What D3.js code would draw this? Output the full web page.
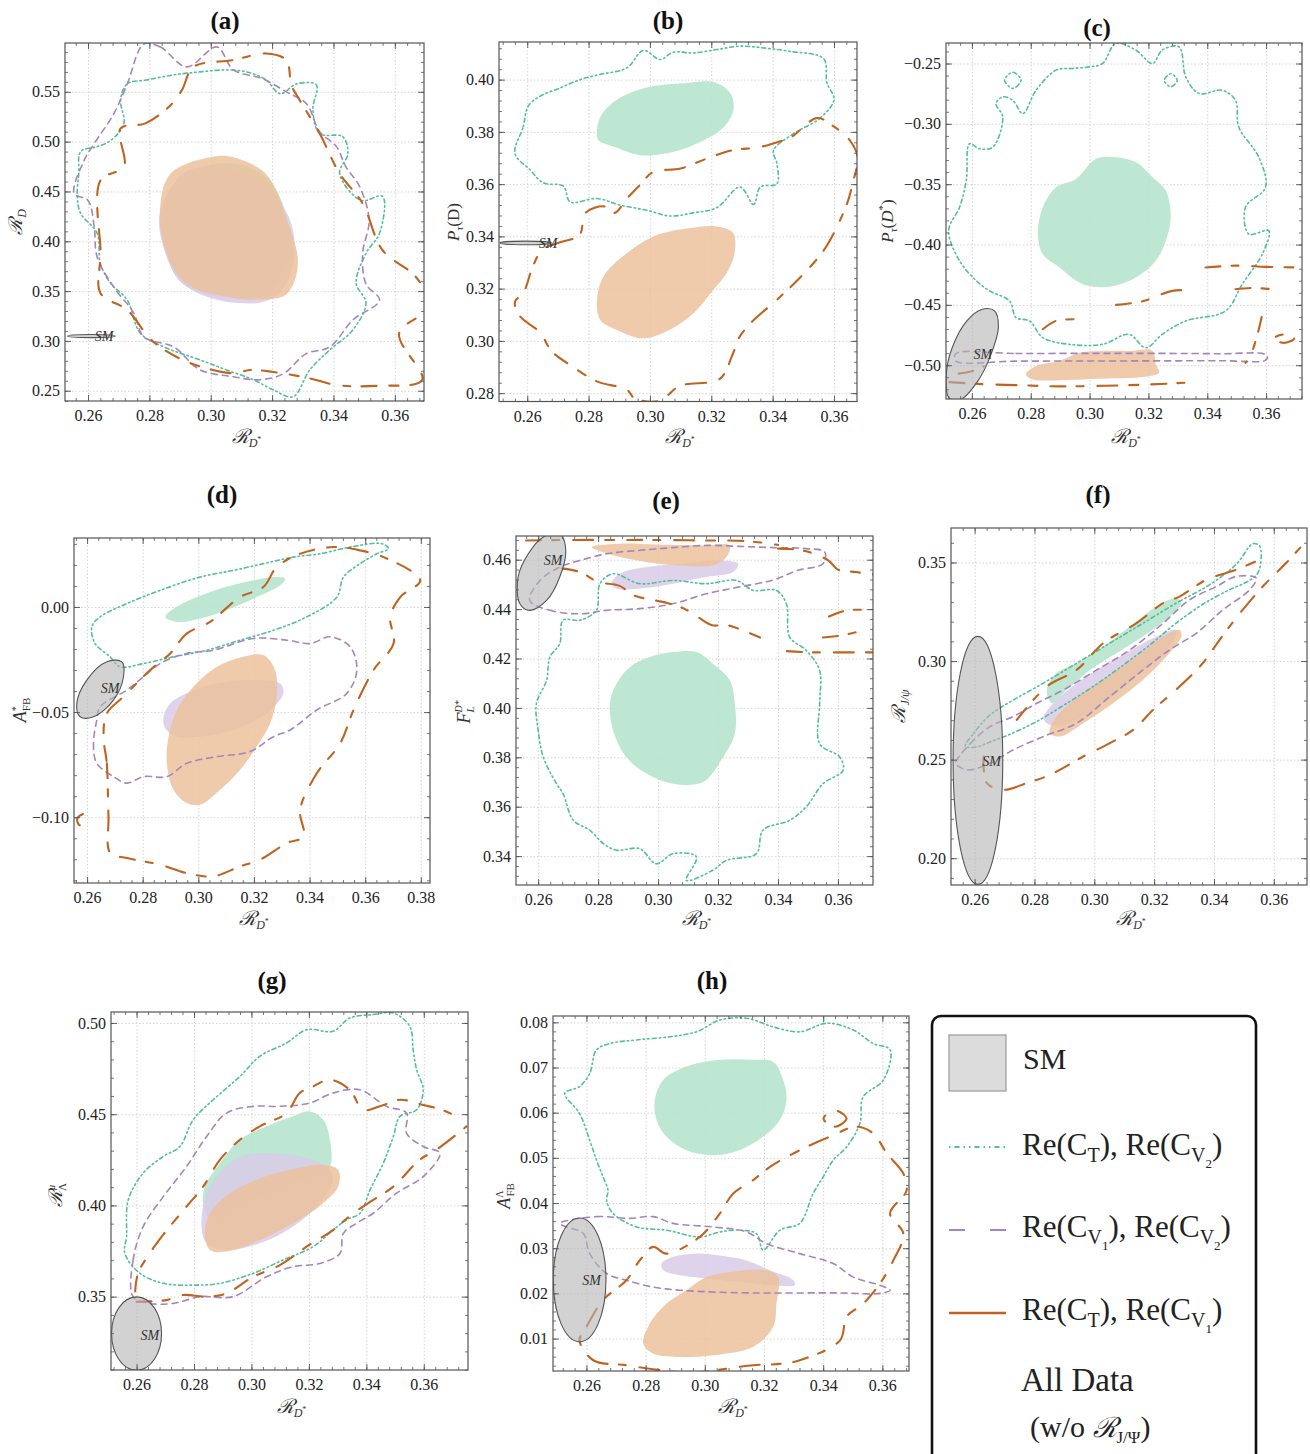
<!DOCTYPE html>
<html><head><meta charset="utf-8">
<script src="https://cdn.jsdelivr.net/npm/d3@7"></script>
<style>
body{margin:0;background:#fff}
svg{display:block}
text{font-family:"Liberation Serif","Times New Roman","DejaVu Serif",serif;fill:#222}
</style>
</head><body>
<svg id="c" width="1310" height="1454"></svg>
<script>
// ================= DATA =================
// Tick values
const xTicks = [0.26,0.28,0.30,0.32,0.34,0.36];
const xTicksD = [0.26,0.28,0.30,0.32,0.34,0.36,0.38];
const yTicksA = [0.25,0.30,0.35,0.40,0.45,0.50,0.55];
const yTicksB = [0.28,0.30,0.32,0.34,0.36,0.38,0.40];
const yTicksC = [-0.50,-0.45,-0.40,-0.35,-0.30,-0.25];
const yTicksD = [-0.10,-0.05,0.00];
const yTicksE = [0.34,0.36,0.38,0.40,0.42,0.44,0.46];
const yTicksF = [0.20,0.25,0.30,0.35];
const yTicksG = [0.35,0.40,0.45,0.50];
const yTicksH = [0.01,0.02,0.03,0.04,0.05,0.06,0.07,0.08];

// ---- Panel (a): R_D vs R_D* ----
const fillGreenA = [[0.2845,0.425],[0.288,0.458],[0.297,0.475],[0.31,0.477],[0.32,0.458],[0.3255,0.41],[0.324,0.37],[0.317,0.347],[0.303,0.344],[0.29,0.36],[0.2855,0.39]];
const fillPurpleA = [[0.2835,0.43],[0.2845,0.395],[0.29,0.36],[0.3,0.343],[0.309,0.338],[0.317,0.339],[0.323,0.35],[0.327,0.38],[0.326,0.42],[0.318,0.455],[0.305,0.474],[0.292,0.47]];
const fillOrangeA = [[0.2834,0.427],[0.2857,0.387],[0.2922,0.357],[0.3073,0.343],[0.3155,0.3416],[0.3246,0.3467],[0.3284,0.3768],[0.3246,0.424],[0.318,0.4676],[0.3073,0.4843],[0.301,0.485],[0.2868,0.4676]];
const ringGreenA = [[0.2728,0.558],[0.2793,0.562],[0.2879,0.567],[0.2965,0.570],[0.305,0.572],[0.3117,0.570],[0.318,0.562],[0.3226,0.548],[0.328,0.558],[0.3344,0.557],[0.3333,0.532],[0.3355,0.508],[0.343,0.505],[0.3447,0.488],[0.342,0.468],[0.349,0.441],[0.356,0.445],[0.355,0.408],[0.3506,0.388],[0.3474,0.358],[0.3506,0.338],[0.3463,0.311],[0.3388,0.291],[0.3323,0.271],[0.3268,0.244],[0.3203,0.251],[0.3139,0.261],[0.305,0.271],[0.2965,0.281],[0.2847,0.294],[0.277,0.308],[0.2728,0.341],[0.2673,0.358],[0.264,0.378],[0.263,0.408],[0.2576,0.428],[0.2565,0.445],[0.257,0.468],[0.2576,0.490],[0.263,0.495],[0.2673,0.501],[0.2717,0.518],[0.2706,0.542]];
const ringPurpleA = [[0.2782,0.598],[0.2836,0.595],[0.2922,0.575],[0.302,0.595],[0.3074,0.572],[0.317,0.563],[0.3246,0.55],[0.3312,0.538],[0.3355,0.51],[0.341,0.495],[0.344,0.475],[0.3485,0.455],[0.3516,0.421],[0.3495,0.388],[0.3506,0.357],[0.355,0.341],[0.3463,0.321],[0.3388,0.294],[0.331,0.287],[0.3236,0.267],[0.316,0.261],[0.3074,0.264],[0.2965,0.271],[0.2879,0.294],[0.2782,0.304],[0.2749,0.328],[0.2684,0.354],[0.263,0.384],[0.262,0.415],[0.26,0.441],[0.2555,0.448],[0.2587,0.481],[0.262,0.498],[0.2684,0.528],[0.2728,0.558]];
const ringOrangeA = [[0.2706,0.5132],[0.2787,0.5183],[0.2869,0.5366],[0.2906,0.5517],[0.2944,0.575],[0.3073,0.5818],[0.318,0.5885],[0.3246,0.5818],[0.3263,0.5567],[0.329,0.5416],[0.3355,0.5082],[0.342,0.468],[0.3495,0.438],[0.356,0.391],[0.3668,0.3644],[0.3714,0.335],[0.3614,0.3076],[0.3689,0.2607],[0.355,0.255],[0.3409,0.2557],[0.3323,0.2624],[0.32,0.269],[0.3128,0.2708],[0.3074,0.2675],[0.2922,0.2791],[0.281,0.30],[0.2728,0.331],[0.2641,0.3477],[0.2641,0.3878],[0.2641,0.4614],[0.2717,0.4748]];
const smA = {cx:0.2611, cy:0.3049, rx:0.0078, ry:0.0016, label:[0.2652,0.3049]};

// ---- Panel (b): P_tau(D) vs R_D* ----
const fillGreenB = [[0.2827,0.3794],[0.2838,0.3857],[0.2892,0.3923],[0.299,0.397],[0.31,0.3985],[0.3209,0.399],[0.3263,0.3947],[0.3272,0.3883],[0.3242,0.382],[0.3176,0.3768],[0.3078,0.3724],[0.2969,0.3711],[0.2882,0.3743],[0.2832,0.3768]];
const fillOrangeB = [[0.2827,0.315],[0.2849,0.3247],[0.2925,0.3336],[0.3011,0.34],[0.312,0.343],[0.3218,0.3438],[0.3271,0.3413],[0.3276,0.3336],[0.325,0.326],[0.3207,0.3196],[0.3142,0.3106],[0.3065,0.3043],[0.2978,0.301],[0.289,0.3043],[0.2838,0.308]];
const ringGreenB = [[0.256,0.3717],[0.2587,0.382],[0.2603,0.3898],[0.2641,0.3936],[0.2707,0.3968],[0.2772,0.4],[0.2838,0.402],[0.2925,0.4045],[0.2979,0.4112],[0.3033,0.4077],[0.3076,0.4105],[0.3141,0.4102],[0.3218,0.4115],[0.3294,0.4128],[0.3381,0.412],[0.3457,0.4108],[0.3566,0.408],[0.3577,0.3988],[0.36,0.3923],[0.3555,0.3853],[0.3468,0.3793],[0.3403,0.3729],[0.3414,0.3678],[0.3414,0.3601],[0.336,0.3589],[0.3338,0.3522],[0.3294,0.3589],[0.3218,0.351],[0.3141,0.349],[0.3065,0.3478],[0.299,0.35],[0.2903,0.352],[0.2827,0.3545],[0.274,0.3532],[0.2718,0.3592],[0.2652,0.3605],[0.2609,0.3655]];
const ringOrangeB = [[0.265,0.335],[0.27,0.3375],[0.277,0.3405],[0.279,0.349],[0.285,0.3515],[0.2885,0.349],[0.2925,0.3545],[0.297,0.36],[0.301,0.3646],[0.31,0.366],[0.319,0.37],[0.327,0.373],[0.335,0.374],[0.3405,0.3757],[0.346,0.378],[0.3545,0.3853],[0.36,0.382],[0.365,0.377],[0.3677,0.3703],[0.366,0.36],[0.3644,0.353],[0.3578,0.3367],[0.352,0.328],[0.3422,0.3166],[0.333,0.307],[0.3291,0.3013],[0.327,0.295],[0.3227,0.2854],[0.3098,0.2828],[0.303,0.277],[0.295,0.278],[0.2925,0.2813],[0.2827,0.2845],[0.275,0.29],[0.268,0.296],[0.2641,0.3033],[0.2576,0.3095],[0.256,0.315],[0.2587,0.3183],[0.262,0.329]];
const smB = {cx:0.2595, cy:0.3375, rx:0.0084, ry:0.0007, label:[0.2668,0.3375]};

// ---- Panel (c): P_tau(D*) vs R_D* ----
const fillGreenC = [[0.2824,-0.3913],[0.2841,-0.3691],[0.2886,-0.3525],[0.2954,-0.3456],[0.3022,-0.329],[0.3089,-0.3276],[0.3157,-0.3317],[0.3214,-0.3442],[0.3259,-0.3553],[0.3276,-0.3774],[0.3259,-0.3968],[0.3225,-0.4134],[0.3157,-0.4273],[0.3067,-0.435],[0.2976,-0.4328],[0.2897,-0.4189],[0.2841,-0.4079]];
const fillOrangeC = [[0.2784,-0.5076],[0.2818,-0.5007],[0.2897,-0.4965],[0.2965,-0.4896],[0.3044,-0.4882],[0.3134,-0.4882],[0.3214,-0.4882],[0.3225,-0.4993],[0.3236,-0.5062],[0.318,-0.5098],[0.3089,-0.5109],[0.2976,-0.5118],[0.2875,-0.5126],[0.2807,-0.5118]];
const ringGreenC = [[0.2521,-0.3885],[0.2558,-0.3691],[0.2581,-0.347],[0.2592,-0.3165],[0.2626,-0.3206],[0.2671,-0.3193],[0.2705,-0.2943],[0.2682,-0.2832],[0.2705,-0.2777],[0.2739,-0.2805],[0.2773,-0.2915],[0.2818,-0.2722],[0.2886,-0.2555],[0.2942,-0.2541],[0.2999,-0.2528],[0.3044,-0.25],[0.3089,-0.2334],[0.3157,-0.2389],[0.3214,-0.25],[0.3247,-0.2389],[0.3304,-0.2362],[0.3327,-0.2611],[0.3372,-0.2749],[0.3451,-0.2722],[0.3496,-0.2805],[0.3507,-0.3026],[0.3575,-0.3276],[0.3598,-0.3525],[0.353,-0.3691],[0.3541,-0.3913],[0.3609,-0.3885],[0.3587,-0.4079],[0.3519,-0.4328],[0.3462,-0.455],[0.3327,-0.4633],[0.3247,-0.4744],[0.3191,-0.4855],[0.3134,-0.4744],[0.3044,-0.4827],[0.2931,-0.4827],[0.2841,-0.4771],[0.2796,-0.4633],[0.275,-0.4605],[0.2728,-0.4467],[0.266,-0.4384],[0.2615,-0.43],[0.2558,-0.4134]];
const loopGreenC1 = [[0.2739,-0.2572],[0.2767,-0.2639],[0.2739,-0.2706],[0.2711,-0.2639]];
const loopGreenC2 = [[0.3276,-0.2585],[0.3298,-0.2639],[0.3276,-0.2693],[0.3254,-0.2639]];
const ringPurpleC = [[0.2545,-0.4905],[0.275,-0.4903],[0.30,-0.4902],[0.325,-0.4902],[0.345,-0.4905],[0.3595,-0.4908],[0.3605,-0.4935],[0.3595,-0.4962],[0.345,-0.4963],[0.325,-0.4964],[0.30,-0.4965],[0.275,-0.4966],[0.2545,-0.4965]];
const pathOrangeC1 = [[0.2524,-0.514],[0.262,-0.5155],[0.275,-0.5165],[0.29,-0.5175],[0.305,-0.517],[0.32,-0.516],[0.336,-0.514]];
const pathOrangeC2 = [[0.2841,-0.4702],[0.2886,-0.4633],[0.296,-0.462]];
const pathOrangeC3 = [[0.309,-0.45],[0.318,-0.447],[0.3281,-0.4384],[0.335,-0.438]];
const pathOrangeC4 = [[0.3394,-0.419],[0.35,-0.4175],[0.36,-0.4185],[0.372,-0.419]];
const pathOrangeC5 = [[0.3496,-0.437],[0.355,-0.436],[0.362,-0.437]];
const pathOrangeC6 = [[0.3585,-0.46],[0.357,-0.475],[0.355,-0.49],[0.353,-0.498]];
const loopOrangeC7 = [[0.366,-0.4745],[0.3695,-0.478],[0.366,-0.4815],[0.3625,-0.478]];
const pathOrangeC8 = [[0.2555,-0.507],[0.26,-0.505],[0.264,-0.501]];
const smC = {pts:[[0.2677,-0.455],[0.269,-0.4688],[0.2665,-0.491],[0.262,-0.5132],[0.2562,-0.5284],[0.2522,-0.527],[0.2513,-0.5076],[0.2533,-0.4855],[0.2583,-0.4633],[0.2635,-0.4536]], label:[0.2637,-0.4904]};

// ---- Panel (d): A*_FB vs R_D* ----
const fillGreenD = [[0.2881,-0.0047],[0.2911,-0.0008],[0.2982,0.004],[0.3078,0.0087],[0.3198,0.0127],[0.3282,0.0142],[0.3312,0.0134],[0.3294,0.0103],[0.321,0.0047],[0.3114,-0.0008],[0.3006,-0.0055],[0.2923,-0.0071]];
const fillPurpleD = [[0.2875,-0.0522],[0.2899,-0.0459],[0.2958,-0.0411],[0.3066,-0.0364],[0.3198,-0.0348],[0.3294,-0.0364],[0.3306,-0.0411],[0.3246,-0.0506],[0.3126,-0.0585],[0.3006,-0.0617],[0.2923,-0.0617],[0.2881,-0.0577]];
const fillOrangeD = [[0.2887,-0.0744],[0.2893,-0.0617],[0.2923,-0.049],[0.2982,-0.038],[0.3066,-0.0285],[0.3162,-0.0237],[0.3234,-0.0229],[0.3276,-0.0301],[0.3282,-0.0427],[0.3258,-0.0554],[0.321,-0.0664],[0.315,-0.0775],[0.3078,-0.087],[0.3006,-0.0941],[0.2958,-0.0933],[0.2911,-0.087]];
const ringGreenD = [[0.2617,-0.0095],[0.2629,-0.0174],[0.2683,-0.0237],[0.2719,-0.0285],[0.2803,-0.0269],[0.2911,-0.0237],[0.303,-0.0206],[0.315,-0.0158],[0.327,-0.0111],[0.339,-0.0047],[0.3498,0.0047],[0.3522,0.0142],[0.3582,0.0206],[0.3642,0.0253],[0.3684,0.0277],[0.366,0.0301],[0.3546,0.0285],[0.3438,0.0253],[0.3342,0.0237],[0.3234,0.0206],[0.3126,0.0174],[0.3006,0.0142],[0.2863,0.0079],[0.2743,0.0016],[0.2647,-0.0047]];
const ringPurpleD = [[0.2635,-0.0538],[0.2623,-0.0649],[0.2635,-0.0744],[0.2695,-0.0807],[0.2743,-0.0838],[0.2803,-0.0807],[0.2887,-0.0807],[0.2958,-0.0744],[0.3066,-0.0712],[0.3186,-0.0688],[0.327,-0.0617],[0.333,-0.0585],[0.3426,-0.049],[0.3534,-0.0411],[0.357,-0.03],[0.3546,-0.019],[0.3474,-0.0142],[0.3402,-0.0174],[0.3318,-0.0158],[0.3198,-0.015],[0.3054,-0.0206],[0.2958,-0.0221],[0.2863,-0.0269],[0.2803,-0.0332],[0.2743,-0.0395],[0.2647,-0.0475]];
const ringOrangeD = [[0.2659,-0.0617],[0.2671,-0.0744],[0.2677,-0.0997],[0.2683,-0.117],[0.2743,-0.1194],[0.2863,-0.1226],[0.2958,-0.1266],[0.3054,-0.1281],[0.315,-0.1234],[0.3222,-0.1202],[0.3318,-0.1123],[0.3378,-0.1092],[0.3366,-0.0965],[0.3426,-0.0791],[0.351,-0.0649],[0.3558,-0.049],[0.363,-0.03],[0.3702,-0.0174],[0.369,-0.0047],[0.3726,0.0047],[0.3798,0.0127],[0.3666,0.0237],[0.3582,0.0269],[0.3486,0.0285],[0.3366,0.0253],[0.3282,0.019],[0.3234,0.0095],[0.315,0.0047],[0.3042,-0.0071],[0.2958,-0.0127],[0.2899,-0.0221],[0.2827,-0.03],[0.2731,-0.0427],[0.2671,-0.0506]];
const pathOrangeD2 = [[0.2585,-0.0985],[0.2565,-0.1005],[0.257,-0.1035],[0.2595,-0.1045]];
const smD = {pts:[[0.2725,-0.0261],[0.2731,-0.0332],[0.2695,-0.0443],[0.2623,-0.0522],[0.2575,-0.0522],[0.2563,-0.0459],[0.2599,-0.0348],[0.2671,-0.0261]], label:[0.2683,-0.0388]};

// ---- Panel (e): F_L^D* vs R_D* ----
const fillGreenE = [[0.2839,0.4017],[0.2861,0.4098],[0.2906,0.4166],[0.2972,0.4206],[0.305,0.4226],[0.3128,0.4226],[0.3183,0.4179],[0.3239,0.4112],[0.3256,0.4017],[0.3256,0.3896],[0.3217,0.3801],[0.315,0.37],[0.305,0.3693],[0.2961,0.3734],[0.2894,0.3801],[0.285,0.3909]];
const fillPurpleE = [[0.2844,0.4503],[0.2872,0.4543],[0.2961,0.457],[0.3072,0.4584],[0.3194,0.4597],[0.3267,0.4584],[0.325,0.455],[0.3161,0.453],[0.305,0.4503],[0.2939,0.4483],[0.2861,0.4483]];
const fillOrangeE = [[0.2778,0.4651],[0.2872,0.4665],[0.2994,0.4662],[0.3161,0.4658],[0.3239,0.4658],[0.3228,0.4611],[0.3183,0.4577],[0.3072,0.4577],[0.2961,0.4591],[0.285,0.4618]];
const ringGreenE = [[0.2594,0.4017],[0.26,0.3909],[0.2617,0.3801],[0.2661,0.3693],[0.2683,0.3653],[0.2717,0.3545],[0.2772,0.3505],[0.2817,0.3451],[0.2861,0.3424],[0.2939,0.343],[0.2994,0.3369],[0.305,0.341],[0.3128,0.3397],[0.3094,0.3302],[0.3183,0.3343],[0.3228,0.3383],[0.3328,0.341],[0.335,0.3505],[0.3439,0.3545],[0.3494,0.3599],[0.355,0.3693],[0.3617,0.3747],[0.3606,0.3801],[0.3539,0.3855],[0.3539,0.4017],[0.3539,0.4152],[0.3494,0.4233],[0.3439,0.4287],[0.3428,0.4422],[0.3394,0.4476],[0.3317,0.4476],[0.3261,0.4516],[0.3161,0.4503],[0.305,0.4516],[0.2939,0.4503],[0.285,0.4543],[0.2806,0.4503],[0.2794,0.4395],[0.2739,0.4355],[0.2683,0.4355],[0.2672,0.426],[0.2639,0.4206],[0.2628,0.4112]];
const ringPurpleE = [[0.2572,0.4435],[0.2639,0.4395],[0.2739,0.4381],[0.2828,0.4395],[0.2939,0.4402],[0.305,0.4422],[0.3161,0.4462],[0.3267,0.4489],[0.3378,0.4516],[0.3467,0.4557],[0.355,0.4584],[0.3556,0.4631],[0.3494,0.4645],[0.3383,0.4649],[0.3272,0.4654],[0.3161,0.4658],[0.305,0.4649],[0.2939,0.4638],[0.2828,0.4624],[0.2739,0.4597],[0.2672,0.457],[0.2606,0.4516]];
const pathOrangeE1 = [[0.256,0.4678],[0.27,0.468],[0.285,0.468],[0.30,0.468],[0.315,0.4678],[0.33,0.4675],[0.34,0.466]];
const pathOrangeE2 = [[0.268,0.4565],[0.274,0.455],[0.28,0.451],[0.287,0.4495],[0.292,0.4455],[0.297,0.444],[0.303,0.4425],[0.309,0.44],[0.313,0.437],[0.318,0.4335],[0.323,0.4335],[0.329,0.431],[0.334,0.4285]];
const pathOrangeE3 = [[0.34,0.4645],[0.347,0.464],[0.353,0.462],[0.357,0.4595],[0.36,0.456],[0.366,0.455],[0.372,0.454]];
const pathOrangeE4 = [[0.343,0.423],[0.35,0.4225],[0.357,0.4225],[0.365,0.4225],[0.372,0.4225]];
const pathOrangeE5 = [[0.355,0.4285],[0.362,0.4295],[0.367,0.431]];
const pathOrangeE6 = [[0.357,0.437],[0.363,0.4395],[0.372,0.4395]];
const smE = {pts:[[0.2672,0.4705],[0.2692,0.4638],[0.2672,0.453],[0.2628,0.4435],[0.2572,0.4395],[0.2539,0.4422],[0.2533,0.453],[0.2567,0.4624],[0.2617,0.4692]], label:[0.265,0.4597]};

// ---- Panel (f): R_J/psi vs R_D* ----
const fillGreenF = [[0.2841,0.2854],[0.2874,0.2939],[0.2941,0.2989],[0.303,0.3074],[0.3119,0.3175],[0.3208,0.3277],[0.3274,0.3319],[0.3291,0.3294],[0.3252,0.3226],[0.3163,0.3125],[0.3074,0.304],[0.2986,0.2955],[0.2908,0.2854],[0.2858,0.2786]];
const fillPurpleF = [[0.283,0.271],[0.2874,0.2803],[0.2974,0.2922],[0.3086,0.3023],[0.3208,0.3125],[0.3274,0.3158],[0.3252,0.3074],[0.3141,0.2922],[0.303,0.2786],[0.2919,0.2685],[0.2852,0.2676]];
const fillOrangeF = [[0.2852,0.2634],[0.2858,0.2685],[0.2919,0.2786],[0.303,0.2905],[0.3141,0.3023],[0.323,0.3125],[0.3285,0.3158],[0.3291,0.3125],[0.3241,0.3023],[0.3163,0.2905],[0.3063,0.2786],[0.2963,0.2685],[0.2885,0.2617]];
const ringGreenF = [[0.2569,0.2567],[0.2597,0.2634],[0.2652,0.2727],[0.273,0.2803],[0.283,0.2888],[0.2941,0.2989],[0.3052,0.3091],[0.3163,0.3192],[0.3274,0.3294],[0.3386,0.3388],[0.3474,0.3490],[0.353,0.3595],[0.3552,0.3585],[0.3558,0.353],[0.3546,0.3445],[0.3508,0.3400],[0.3452,0.3362],[0.3363,0.3288],[0.3274,0.3193],[0.3186,0.3082],[0.3097,0.298],[0.3008,0.2883],[0.2897,0.2775],[0.2808,0.2694],[0.2719,0.2629],[0.2652,0.2590],[0.2608,0.2565]];
const ringPurpleF = [[0.2541,0.25],[0.2586,0.2583],[0.2652,0.2668],[0.273,0.2719],[0.2808,0.2786],[0.2897,0.2854],[0.3008,0.2955],[0.3119,0.3057],[0.323,0.3192],[0.3319,0.3311],[0.3408,0.3378],[0.3474,0.3429],[0.3541,0.3421],[0.3519,0.3361],[0.343,0.326],[0.3341,0.3141],[0.3252,0.3057],[0.3163,0.2955],[0.3052,0.282],[0.2941,0.2685],[0.283,0.2617],[0.273,0.255],[0.2652,0.2482],[0.2575,0.2448],[0.2536,0.2482]];
const pathOrangeF1 = [[0.2741,0.2702],[0.2841,0.2871],[0.2941,0.2955],[0.303,0.3091],[0.3141,0.3192],[0.323,0.3294],[0.3285,0.3327],[0.3374,0.3412],[0.3474,0.3463],[0.3552,0.3514]];
const pathOrangeF2 = [[0.263,0.2516],[0.2641,0.2381],[0.2697,0.2347],[0.2774,0.2381],[0.2852,0.2423],[0.2963,0.2516],[0.3052,0.2584],[0.313,0.2651],[0.3197,0.2753],[0.3285,0.2871],[0.3363,0.299],[0.3419,0.3108],[0.348,0.323],[0.3563,0.3378],[0.3641,0.3497],[0.3715,0.362]];
const smF = {cx:0.2611, cy:0.2496, rx:0.0083, ry:0.0629, label:[0.2657,0.249]};

// ---- Panel (g): R_Lambda^mu vs R_D* ----
const fillGreenG = [[0.2832,0.4012],[0.2838,0.4103],[0.289,0.4231],[0.296,0.436],[0.3052,0.4433],[0.3145,0.4488],[0.3203,0.4515],[0.325,0.4469],[0.3273,0.436],[0.3273,0.4213],[0.3215,0.4158],[0.3076,0.4067],[0.296,0.3994],[0.2867,0.3902]];
const fillPurpleG = [[0.2826,0.3884],[0.2844,0.4067],[0.289,0.4177],[0.296,0.4268],[0.3052,0.4286],[0.3168,0.4268],[0.3261,0.4213],[0.3284,0.414],[0.3238,0.4012],[0.3145,0.3884],[0.3029,0.3792],[0.2913,0.3756],[0.2844,0.3792]];
const fillOrangeG = [[0.2838,0.3847],[0.2855,0.3957],[0.2925,0.4067],[0.3018,0.414],[0.3134,0.4195],[0.325,0.4222],[0.3302,0.4195],[0.3302,0.4103],[0.325,0.4012],[0.3145,0.3902],[0.3029,0.381],[0.2913,0.3747],[0.2855,0.3756]];
const ringGreenG = [[0.2565,0.3829],[0.2571,0.403],[0.2623,0.4177],[0.2693,0.4268],[0.2751,0.4323],[0.2797,0.4469],[0.2867,0.4579],[0.296,0.4707],[0.3029,0.4817],[0.3122,0.489],[0.3192,0.4963],[0.3284,0.4954],[0.3342,0.5027],[0.3424,0.5046],[0.3493,0.5055],[0.3551,0.4982],[0.3563,0.4854],[0.3575,0.4744],[0.3598,0.4634],[0.3575,0.4524],[0.3517,0.4488],[0.3494,0.4378],[0.3459,0.4231],[0.3413,0.4085],[0.3378,0.3957],[0.3331,0.3921],[0.3284,0.3865],[0.3215,0.3774],[0.311,0.3701],[0.3006,0.3628],[0.289,0.3573],[0.2797,0.3563],[0.2693,0.3573],[0.2612,0.3628],[0.2559,0.3738]];
const ringPurpleG = [[0.2588,0.35],[0.2588,0.3701],[0.2623,0.3884],[0.2693,0.4048],[0.2774,0.4213],[0.2844,0.4378],[0.2913,0.4506],[0.3006,0.4543],[0.3099,0.4543],[0.3203,0.4561],[0.3284,0.4616],[0.3377,0.4634],[0.347,0.4543],[0.354,0.4506],[0.354,0.4396],[0.3598,0.4323],[0.3656,0.4286],[0.3598,0.4158],[0.3505,0.4067],[0.3424,0.3957],[0.3366,0.3902],[0.332,0.3847],[0.3308,0.3737],[0.3238,0.3682],[0.3145,0.3664],[0.3052,0.3609],[0.2936,0.35],[0.2821,0.35],[0.2728,0.3463],[0.2646,0.3463]];
const pathOrangeG1 = [[0.2595,0.3528],[0.2605,0.3628],[0.2646,0.3738],[0.2693,0.384],[0.2774,0.3994],[0.2832,0.4103],[0.289,0.425],[0.296,0.436],[0.3029,0.4433],[0.3122,0.4506],[0.3168,0.4616],[0.3215,0.4652],[0.3273,0.4689],[0.3342,0.4634],[0.3389,0.4524],[0.3447,0.4543],[0.3517,0.4579],[0.36,0.455],[0.367,0.452],[0.373,0.4475]];
const pathOrangeG2 = [[0.26,0.3472],[0.2704,0.3481],[0.2762,0.3509],[0.2844,0.35],[0.2913,0.3518],[0.3006,0.3609],[0.3099,0.3673],[0.3192,0.3774],[0.3284,0.3865],[0.3354,0.3957],[0.3424,0.403],[0.3494,0.4103],[0.3586,0.425],[0.3644,0.4305],[0.3749,0.4433]];
const smG = {cx:0.26, cy:0.3298, rx:0.0087, ry:0.0201, label:[0.2646,0.3289]};

// ---- Panel (h): A_FB^Lambda vs R_D* ----
const fillGreenH = [[0.2831,0.0628],[0.2859,0.0672],[0.2938,0.0702],[0.3051,0.0717],[0.3164,0.0717],[0.3231,0.0713],[0.3265,0.0672],[0.3276,0.0628],[0.3254,0.0584],[0.3197,0.0547],[0.3118,0.0517],[0.3028,0.0506],[0.2938,0.0517],[0.287,0.0547],[0.2837,0.0584]];
const fillPurpleH = [[0.2854,0.0266],[0.2893,0.0281],[0.2972,0.0288],[0.3051,0.0284],[0.3141,0.0273],[0.322,0.0251],[0.3299,0.0229],[0.3304,0.0218],[0.3231,0.0218],[0.3118,0.0225],[0.3006,0.0233],[0.2916,0.024],[0.286,0.0251]];
const fillOrangeH = [[0.2792,0.0089],[0.2814,0.0133],[0.287,0.0177],[0.2938,0.0207],[0.3006,0.0236],[0.3096,0.0248],[0.3209,0.0251],[0.3248,0.0236],[0.3242,0.0177],[0.3231,0.0126],[0.3164,0.0082],[0.3028,0.0063],[0.2916,0.0059],[0.2825,0.0067]];
const ringGreenH = [[0.2527,0.0643],[0.2577,0.0598],[0.2611,0.0539],[0.2634,0.0495],[0.2656,0.0458],[0.2673,0.0428],[0.2668,0.0406],[0.269,0.0377],[0.2769,0.0347],[0.287,0.034],[0.2983,0.0325],[0.3051,0.0336],[0.3118,0.034],[0.3175,0.0332],[0.3197,0.0296],[0.3254,0.034],[0.3321,0.0355],[0.3366,0.0421],[0.34,0.0458],[0.3434,0.0495],[0.3479,0.0524],[0.3524,0.0576],[0.3535,0.0635],[0.3603,0.0672],[0.3626,0.0739],[0.3569,0.0753],[0.3502,0.0783],[0.3412,0.0798],[0.3321,0.0779],[0.3231,0.079],[0.3141,0.0809],[0.3051,0.0805],[0.2972,0.0779],[0.2882,0.0768],[0.2769,0.0761],[0.2679,0.0753],[0.2634,0.0739],[0.2611,0.0687],[0.2577,0.0658]];
const ringPurpleH = [[0.251,0.0355],[0.2634,0.037],[0.2747,0.0366],[0.2825,0.037],[0.2893,0.0355],[0.3028,0.0347],[0.3141,0.0336],[0.3209,0.031],[0.3321,0.0288],[0.3434,0.0266],[0.3502,0.0236],[0.3592,0.0218],[0.3626,0.0207],[0.3592,0.02],[0.3457,0.0201],[0.331,0.0201],[0.3164,0.0201],[0.3028,0.0203],[0.2916,0.0207],[0.2825,0.0214],[0.2735,0.0229],[0.2668,0.0244],[0.2611,0.0288],[0.2589,0.0333],[0.2532,0.0347]];
const ringOrangeH = [[0.2577,0.0096],[0.2623,0.0052],[0.2735,0.0041],[0.2848,0.003],[0.296,0.0025],[0.3164,0.0041],[0.3254,0.0044],[0.3321,0.0052],[0.3457,0.0096],[0.3479,0.0148],[0.3535,0.0177],[0.3592,0.0222],[0.3637,0.0273],[0.3671,0.0332],[0.3626,0.0377],[0.3682,0.0428],[0.3671,0.0465],[0.3615,0.051],[0.3569,0.0554],[0.3513,0.0569],[0.3423,0.0547],[0.3321,0.0517],[0.322,0.048],[0.3164,0.0451],[0.3096,0.0421],[0.3051,0.0377],[0.2983,0.0325],[0.287,0.0288],[0.2825,0.0303],[0.278,0.0273],[0.2735,0.0229],[0.2656,0.0185],[0.26,0.0126]];
const loopOrangeH = [[0.344,0.0605],[0.3479,0.0587],[0.344,0.0569],[0.3401,0.0587]];
const smH = {cx:0.2577, cy:0.023, rx:0.0089, ry:0.0137, label:[0.2617,0.0229]};

// ================= LAYOUT =================
const layout = [
 {id:"a", frame:[65,43,424,401], xDom:[0.2525,0.3695], yDom:[0.2397,0.599], xt:xTicks, yt:yTicksA, title:[225,28], ylab:[22,222], xlab:443,
  fills:[fillGreenA,fillPurpleA,fillOrangeA], rings:[["g",ringGreenA],["p",ringPurpleA],["o",ringOrangeA]], paths:[], sm:smA,
  ylabel:[{t:"ℛ",i:1,s:19},{t:"D",i:1,s:12,o:4}]},
 {id:"b", frame:[499,42,857,401.5], xDom:[0.2508,0.3675], yDom:[0.2768,0.4144], xt:xTicks, yt:yTicksB, title:[668,28], ylab:[459,222], xlab:443,
  fills:[fillGreenB,null,fillOrangeB], rings:[["g",ringGreenB],["o",ringOrangeB]], paths:[], sm:smB,
  ylabel:[{t:"P",i:1,s:17},{t:"τ",i:1,s:11,o:4},{t:"(D)",s:17,o:0}]},
 {id:"c", frame:[946,43,1302,399], xDom:[0.2512,0.3722], yDom:[-0.528,-0.233], xt:xTicks, yt:yTicksC, title:[1097,35], ylab:[893,221], xlab:443,
  fills:[fillGreenC,null,fillOrangeC], rings:[["g",ringGreenC],["g",loopGreenC1],["g",loopGreenC2],["p",ringPurpleC],["o",loopOrangeC7]],
  paths:[["o",pathOrangeC1],["o",pathOrangeC2],["o",pathOrangeC3],["o",pathOrangeC4],["o",pathOrangeC5],["o",pathOrangeC6],["o",pathOrangeC8]], sm:smC,
  ylabel:[{t:"P",i:1,s:17},{t:"τ",i:1,s:11,o:4},{t:"(",s:17,o:0},{t:"D",i:1,s:17,o:0},{t:"*",s:11,o:-7},{t:")",s:17,o:0}]},
 {id:"d", frame:[74,538,430,883], xDom:[0.2553,0.3833], yDom:[-0.1313,0.0328], xt:xTicksD, yt:yTicksD, title:[222,502], ylab:[26,710], xlab:925,
  fills:[fillGreenD,fillPurpleD,fillOrangeD], rings:[["g",ringGreenD],["p",ringPurpleD],["o",ringOrangeD]], paths:[["o",pathOrangeD2]], sm:smD,
  ylabel:[{t:"A",i:1,s:18},{t:"*",s:10,o:-7},{t:"FB",s:11,o:4,dx:-5}]},
 {id:"e", frame:[516,536,873,885], xDom:[0.2526,0.3717], yDom:[0.3283,0.4696], xt:xTicks, yt:yTicksE, title:[666,508], ylab:[470,712], xlab:925,
  fills:[fillGreenE,fillPurpleE,fillOrangeE], rings:[["g",ringGreenE],["p",ringPurpleE]],
  paths:[["o",pathOrangeE1],["o",pathOrangeE2],["o",pathOrangeE3],["o",pathOrangeE4],["o",pathOrangeE5],["o",pathOrangeE6]], sm:smE,
  ylabel:[{t:"F",i:1,s:18},{t:"D*",i:1,s:10,o:-8},{t:"L",i:1,s:11,o:4,dx:-12}]},
 {id:"f", frame:[951,528,1307,885], xDom:[0.2521,0.3711], yDom:[0.1864,0.3675], xt:xTicks, yt:yTicksF, title:[1098,502], ylab:[905,706], xlab:925,
  fills:[fillGreenF,fillPurpleF,fillOrangeF], rings:[["g",ringGreenF],["p",ringPurpleF]], paths:[["o",pathOrangeF1],["o",pathOrangeF2]], sm:smF,
  ylabel:[{t:"ℛ",i:1,s:19},{t:"J/ψ",i:1,s:12,o:4}]},
 {id:"g", frame:[111,1012,468,1370], xDom:[0.2511,0.3754], yDom:[0.3098,0.506], xt:xTicks, yt:yTicksG, title:[272,988], ylab:[62,1195], xlab:1413,
  fills:[fillGreenG,fillPurpleG,fillOrangeG], rings:[["g",ringGreenG],["p",ringPurpleG]], paths:[["o",pathOrangeG1],["o",pathOrangeG2]], sm:smG,
  ylabel:[{t:"ℛ",i:1,s:19},{t:"μ",i:1,s:10,o:-7},{t:"Λ",s:11,o:4,dx:-6}]},
 {id:"h", frame:[553,1016,909,1371], xDom:[0.2487,0.369], yDom:[0.00282,0.0814], xt:xTicks, yt:yTicksH, title:[712,988], ylab:[510,1196], xlab:1413,
  fills:[fillGreenH,fillPurpleH,fillOrangeH], rings:[["g",ringGreenH],["p",ringPurpleH],["o",ringOrangeH],["o",loopOrangeH]], paths:[], sm:smH,
  ylabel:[{t:"A",i:1,s:18},{t:"Λ",s:10,o:-7},{t:"FB",s:11,o:4,dx:-6}]}
];

// ================= STYLE =================
const SERIF = "'Liberation Serif','Times New Roman','DejaVu Serif',serif";
const fillCol = ["#b6e4cd","#d9cbe8","#ecc19c"];
const fillOp = [0.9,0.85,0.85];
const lineStyle = {
  g:{stroke:"#52bf9a", w:1.6, dash:"1.5,3,4,3,1.5,3"},
  p:{stroke:"#a585bd", w:1.6, dash:"6,5"},
  o:{stroke:"#bf6420", w:2.1, dash:"15,11,7,14,20,12,9,13"}
};

const svg = d3.select("#c");
const defs = svg.append("defs");

function rich(sel, parts){
  const t = sel.append("text").style("font-family",SERIF);
  let cur = 0;
  parts.forEach(p=>{
    const off = p.o||0;
    const ts = t.append("tspan").text(p.t).attr("dy", off-cur);
    if(p.dx) ts.attr("dx", p.dx);
    cur = off;
    ts.style("font-size",(p.s||16)+"px");
    if(p.i) ts.style("font-style","italic");
  });
  return t;
}

const fmt = v => (v<0?"−":"") + d3.format(".2f")(Math.abs(v));

layout.forEach(p=>{
  const [x0,y0,x1,y1] = p.frame;
  const x = d3.scaleLinear().domain(p.xDom).range([x0,x1]);
  const y = d3.scaleLinear().domain(p.yDom).range([y1,y0]);
  const g = svg.append("g");
  defs.append("clipPath").attr("id","cl"+p.id).append("rect")
    .attr("x",x0).attr("y",y0).attr("width",x1-x0).attr("height",y1-y0);

  // grid
  const gx = g.append("g").attr("transform",`translate(0,${y1})`)
    .call(d3.axisBottom(x).tickValues(p.xt).tickSize(-(y1-y0)).tickFormat(""));
  const gy = g.append("g").attr("transform",`translate(${x0},0)`)
    .call(d3.axisLeft(y).tickValues(p.yt).tickSize(-(x1-x0)).tickFormat(""));
  [gx,gy].forEach(a=>{a.select(".domain").remove();
    a.selectAll("line").attr("stroke","#cfcfcf").attr("stroke-width",0.9).attr("stroke-dasharray","1.5,2");});

  const plot = g.append("g").attr("clip-path",`url(#cl${p.id})`);
  const closed = d3.line().x(d=>x(d[0])).y(d=>y(d[1])).curve(d3.curveCatmullRomClosed.alpha(0.5));
  const open = d3.line().x(d=>x(d[0])).y(d=>y(d[1])).curve(d3.curveCatmullRom.alpha(0.5));

  p.fills.forEach((f,i)=>{ if(!f) return;
    plot.append("path").attr("d",closed(f)).attr("fill",fillCol[i]).attr("fill-opacity",fillOp[i]);
  });
  ["g","p","o"].forEach(k=>{
    const st = lineStyle[k];
    p.rings.filter(r=>r[0]===k).forEach(r=>{
      plot.append("path").attr("d",closed(r[1])).attr("fill","none").attr("stroke",st.stroke)
        .attr("stroke-width",st.w).attr("stroke-dasharray",st.dash).attr("stroke-linecap","round");
    });
    p.paths.filter(r=>r[0]===k).forEach(r=>{
      plot.append("path").attr("d",open(r[1])).attr("fill","none").attr("stroke",st.stroke)
        .attr("stroke-width",st.w).attr("stroke-dasharray",st.dash).attr("stroke-linecap","round");
    });
  });

  // SM region
  const sm = p.sm;
  if(sm.pts){
    plot.append("path").attr("d",closed(sm.pts)).attr("fill","#b4b4b4").attr("fill-opacity",0.6)
      .attr("stroke","#555").attr("stroke-width",1.1);
  } else {
    plot.append("ellipse").attr("cx",x(sm.cx)).attr("cy",y(sm.cy))
      .attr("rx",x(sm.cx+sm.rx)-x(sm.cx)).attr("ry",y(sm.cy)-y(sm.cy+sm.ry))
      .attr("fill","#b4b4b4").attr("fill-opacity",0.6).attr("stroke","#555").attr("stroke-width",1.1);
  }
  g.append("text").attr("x",x(sm.label[0])).attr("y",y(sm.label[1])).attr("dy","0.35em")
    .attr("text-anchor","middle").style("font-family",SERIF).style("font-style","italic").style("font-size","14px").style("fill","#333").text("SM");

  // frame ticks (inward), major + minor
  const xr = p.xt[1]-p.xt[0], yr = p.yt[1]-p.yt[0];
  const xMinor = d3.range(Math.ceil(p.xDom[0]/(xr/5)), Math.floor(p.xDom[1]/(xr/5))+1).map(k=>+(k*xr/5).toFixed(5));
  const yMinor = d3.range(Math.ceil(p.yDom[0]/(yr/5)), Math.floor(p.yDom[1]/(yr/5))+1).map(k=>+(k*yr/5).toFixed(5));
  const tk = [
    [d3.axisBottom(x), `translate(0,${y1})`, p.xt, xMinor],
    [d3.axisTop(x), `translate(0,${y0})`, p.xt, xMinor],
    [d3.axisLeft(y), `translate(${x0},0)`, p.yt, yMinor],
    [d3.axisRight(y), `translate(${x1},0)`, p.yt, yMinor]
  ];
  tk.forEach(([ax,tr,maj,min])=>{
    const a1 = g.append("g").attr("transform",tr).call(ax.tickValues(min).tickSize(-3).tickFormat(""));
    a1.select(".domain").remove(); a1.selectAll("line").attr("stroke","#555").attr("stroke-width",0.8);
    const a2 = g.append("g").attr("transform",tr).call(ax.tickValues(maj).tickSize(-6).tickFormat(""));
    a2.select(".domain").remove(); a2.selectAll("line").attr("stroke","#555").attr("stroke-width",0.9);
  });
  // labels
  const lb = g.append("g").attr("transform",`translate(0,${y1})`)
    .call(d3.axisBottom(x).tickValues(p.xt).tickSize(0).tickPadding(9).tickFormat(fmt));
  lb.select(".domain").remove();
  lb.selectAll("text").style("font-size","16px").style("font-family",SERIF).attr("fill","#222");
  const ll = g.append("g").attr("transform",`translate(${x0},0)`)
    .call(d3.axisLeft(y).tickValues(p.yt).tickSize(0).tickPadding(5).tickFormat(fmt));
  ll.select(".domain").remove();
  ll.selectAll("text").style("font-size","16px").style("font-family",SERIF).attr("fill","#222");

  // frame
  g.append("rect").attr("x",x0).attr("y",y0).attr("width",x1-x0).attr("height",y1-y0)
    .attr("fill","none").attr("stroke","#555").attr("stroke-width",1.2);

  // title
  g.append("text").attr("x",p.title[0]).attr("y",p.title[1]+1).attr("text-anchor","middle")
    .style("font-family",SERIF).style("font-weight","bold").style("font-size","25px").style("fill","#111").text(`(${p.id})`);

  // x label
  const xl = rich(g.append("g").attr("transform",`translate(${(x0+x1)/2+2},${p.xlab})`),
    [{t:"ℛ",i:1,s:20},{t:"D",i:1,s:12,o:4},{t:"*",s:8,o:-1}]);
  xl.attr("text-anchor","middle").style("fill","#333");
  // y label
  const yl = rich(g.append("g").attr("transform",`translate(${p.ylab[0]},${p.ylab[1]}) rotate(-90)`), p.ylabel);
  yl.attr("text-anchor","middle").style("fill","#333");
});

// ================= LEGEND =================
const legendLabels = ["SM","All Data"];
const L = svg.append("g");
L.append("rect").attr("x",932).attr("y",1016).attr("width",324).attr("height",460).attr("rx",9)
  .attr("fill","#fff").attr("stroke","#111").attr("stroke-width",2.6);
L.append("rect").attr("x",949).attr("y",1035).attr("width",57).attr("height",56)
  .attr("fill","#dcdcdc").attr("stroke","#999").attr("stroke-width",1.2);
L.append("text").attr("x",1023).attr("y",1069).style("font-family",SERIF).style("font-size","30px").style("fill","#222").text(legendLabels[0]);
const entries = [["g",1147,1155,[["T"],["V","2"]]],["p",1230,1237,[["V","1"],["V","2"]]],["o",1313,1320,[["T"],["V","1"]]]];
entries.forEach(([k,ly,ty,subs])=>{
  const st = lineStyle[k];
  L.append("line").attr("x1",949).attr("x2",1006).attr("y1",ly).attr("y2",ly).attr("stroke",st.stroke)
    .attr("stroke-width",k==="o"?2.4:2.2).attr("stroke-dasharray",k==="o"?null:(k==="g"?"1.5,4,5,4,1.5,4":"16,25"));
  const parts = [{t:"Re(C",s:31}];
  subs.forEach((sb,j)=>{
    parts.push({t:sb[0],s:20,o:7});
    if(sb[1]) parts.push({t:sb[1],s:13,o:13});
    parts.push({t:j===0?"), Re(C":")",s:31,o:0});
  });
  const t = rich(L.append("g").attr("transform",`translate(1022,${ty})`), parts);
  t.style("fill","#222");
});
L.append("text").attr("x",1021).attr("y",1391).style("font-family",SERIF).style("font-size","33px").style("fill","#222").text(legendLabels[1]);
rich(L.append("g").attr("transform",`translate(1030,1437)`),
  [{t:"(w/o ",s:30},{t:"ℛ",i:1,s:28},{t:"J/Ψ",s:17,o:6},{t:")",s:30,o:0}]).style("fill","#222");
</script>
</body></html>
